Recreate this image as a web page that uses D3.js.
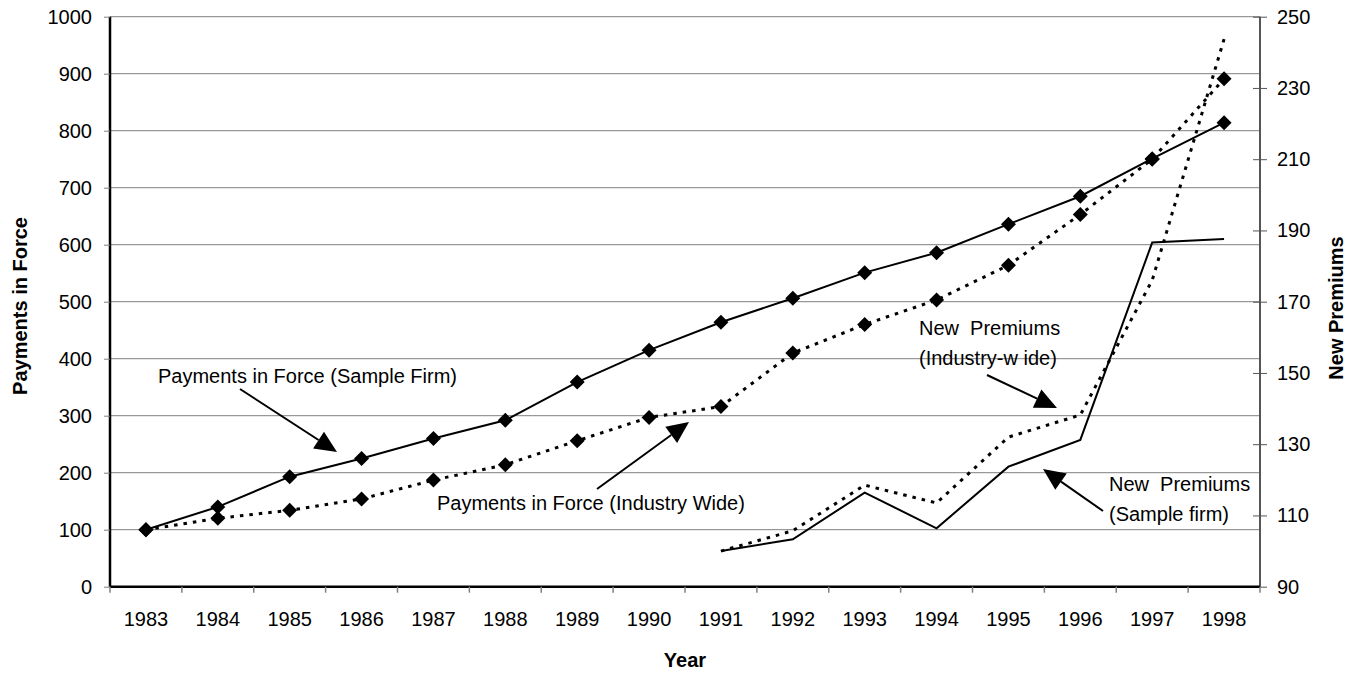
<!DOCTYPE html>
<html><head><meta charset="utf-8">
<script src="https://cdn.jsdelivr.net/npm/d3@7"></script>
<style>body{margin:0;background:#fff}svg{display:block}text{font-family:"Liberation Sans",Arial,sans-serif}</style>
</head><body>
<svg id="c" width="1362" height="675"></svg>
<script>
const years = ["1983","1984","1985","1986","1987","1988","1989","1990","1991","1992","1993","1994","1995","1996","1997","1998"];
const pifSample   = [100,140,193,225,260,292,359,415,464,506,551,586,636,685,751,814];
const pifIndustry = [100,120,134,154,187,214,256,297,316,410,460,503,564,653,750,891];
const npYears     = ["1991","1992","1993","1994","1995","1996","1997","1998"];
const npSample    = [100,103.3,116.4,106.4,123.7,131.2,186.6,187.6];
const npIndustry  = [100,105.7,118.5,113.5,132,138.2,176,243.7];
const leftTicks  = [0,100,200,300,400,500,600,700,800,900,1000];
const rightTicks = [90,110,130,150,170,190,210,230,250];

const svg = d3.select("#c");
const L = 110, R = 1260, T = 16.7, B = 586.7;
const x = d3.scaleBand().domain(years).range([L, R]).padding(0);
const cx = d => x(d) + x.bandwidth()/2;
const yL = d3.scaleLinear().domain([0,1000]).range([B, T]);
const yR = d3.scaleLinear().domain([90,250]).range([B, T]);

// gridlines
svg.append("g").selectAll("line").data(leftTicks).join("line")
  .attr("x1", L).attr("x2", R).attr("y1", d=>yL(d)).attr("y2", d=>yL(d))
  .attr("stroke", "#808080").attr("stroke-width", 1);

// left axis
const gl = svg.append("g").attr("transform", `translate(${L},0)`)
  .call(d3.axisLeft(yL).tickValues(leftTicks).tickFormat(d3.format("d")).tickSize(6).tickPadding(12));
gl.select(".domain").attr("stroke","#000").attr("stroke-width",2.5).attr("d",`M0,${T}V${B}`);
gl.selectAll(".tick line").attr("stroke","#808080");
gl.selectAll("text").attr("font-size",20).attr("fill","#000").attr("font-family","Liberation Sans, Arial");

// right axis
const gr = svg.append("g").attr("transform", `translate(${R},0)`)
  .call(d3.axisRight(yR).tickValues(rightTicks).tickFormat(d3.format("d")).tickSize(7).tickPadding(10));
gr.select(".domain").attr("stroke","#555").attr("stroke-width",2).attr("d",`M0,${T}V${B}`);
gr.selectAll(".tick line").attr("stroke","#555").attr("x1",-7).attr("x2",7);
gr.selectAll("text").attr("font-size",20).attr("fill","#000").attr("font-family","Liberation Sans, Arial");

// bottom axis
const gb = svg.append("g").attr("transform", `translate(0,${B})`)
  .call(d3.axisBottom(x).tickSize(0).tickPadding(25));
gb.select(".domain").attr("stroke","#000").attr("stroke-width",2.5).attr("d",`M${L},0H${R}`);
gb.selectAll("text").attr("font-size",20).attr("fill","#000").attr("font-family","Liberation Sans, Arial");
svg.append("g").selectAll("line").data(years.concat(["end"])).join("line")
  .attr("x1",(d,i)=>L+i*x.bandwidth()).attr("x2",(d,i)=>L+i*x.bandwidth())
  .attr("y1",B).attr("y2",B+6).attr("stroke","#808080").attr("stroke-width",1.5);

// axis titles
svg.append("text").attr("transform","translate(27,306) rotate(-90)").attr("text-anchor","middle")
  .attr("font-size",20).attr("font-weight","bold").text("Payments in Force");
svg.append("text").attr("transform","translate(1343,308) rotate(-90)").attr("text-anchor","middle")
  .attr("font-size",20).attr("font-weight","bold").text("New Premiums");
svg.append("text").attr("x",685).attr("y",667).attr("text-anchor","middle")
  .attr("font-size",20).attr("font-weight","bold").text("Year");

// lines
const lineL = d3.line().x(d=>cx(d[0])).y(d=>yL(d[1]));
const lineR = d3.line().x(d=>cx(d[0])).y(d=>yR(d[1]));
const dotted = "3.5,6";
svg.append("path").datum(years.map((y,i)=>[y,pifIndustry[i]])).attr("d",lineL)
  .attr("fill","none").attr("stroke","#000").attr("stroke-width",3).attr("stroke-dasharray",dotted);
svg.append("path").datum(years.map((y,i)=>[y,pifSample[i]])).attr("d",lineL)
  .attr("fill","none").attr("stroke","#000").attr("stroke-width",2);
svg.append("path").datum(npYears.map((y,i)=>[y,npIndustry[i]])).attr("d",lineR)
  .attr("fill","none").attr("stroke","#000").attr("stroke-width",3).attr("stroke-dasharray",dotted);
svg.append("path").datum(npYears.map((y,i)=>[y,npSample[i]])).attr("d",lineR)
  .attr("fill","none").attr("stroke","#000").attr("stroke-width",2);

// markers
const dia = (s)=>`M0,${-s}L${s},0L0,${s}L${-s},0Z`;
[pifIndustry, pifSample].forEach(arr=>{
  svg.append("g").selectAll("path").data(years.map((y,i)=>[y,arr[i]])).join("path")
    .attr("transform",d=>`translate(${cx(d[0])},${yL(d[1])})`).attr("d",dia(7.5)).attr("fill","#000");
});

// annotations
const notes = [
  {lines:["Payments in Force (Sample Firm)"], x:158, y:383, from:[240,389], to:[337,452]},
  {lines:["Payments in Force (Industry Wide)"], x:437, y:510, from:[597,489], to:[689,422]},
  {lines:["New  Premiums","(Industry-w ide)"], x:919, y:335, from:[987,375], to:[1057,408]},
  {lines:["New  Premiums","(Sample firm)"], x:1109, y:491, from:[1103,511], to:[1043,469]}
];
notes.forEach(n=>{
  n.lines.forEach((t,i)=>svg.append("text").attr("x",n.x).attr("y",n.y+i*29.5)
    .attr("font-size",20).attr("fill","#000").attr("xml:space","preserve").style("white-space","pre").text(t));
  const [x1,y1]=n.from,[x2,y2]=n.to;
  const dx=x2-x1, dy=y2-y1, len=Math.hypot(dx,dy), ux=dx/len, uy=dy/len;
  const hl=22, hw=10;
  const bx=x2-ux*hl, by=y2-uy*hl;
  svg.append("line").attr("x1",x1).attr("y1",y1).attr("x2",bx).attr("y2",by).attr("stroke","#000").attr("stroke-width",2);
  svg.append("path").attr("d",`M${x2},${y2}L${bx-uy*hw},${by+ux*hw}L${bx+uy*hw},${by-ux*hw}Z`).attr("fill","#000");
});
</script>
</body></html>
